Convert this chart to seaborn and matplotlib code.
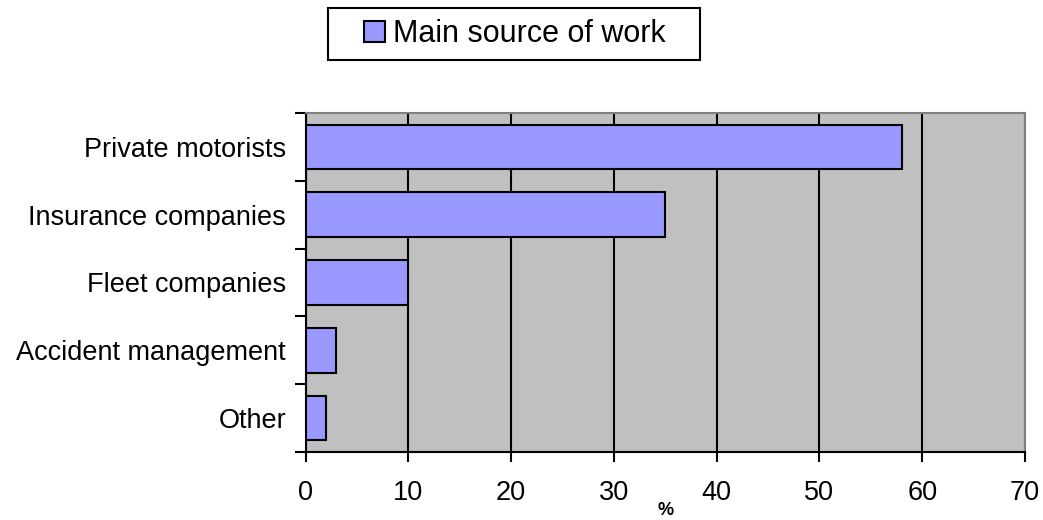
import matplotlib
matplotlib.use("Agg")
import matplotlib.pyplot as plt
from matplotlib.patches import Rectangle
import seaborn as sns
import pandas as pd
import numpy as np

categories = ["Private motorists", "Insurance companies", "Fleet companies",
              "Accident management", "Other"]
values = [58, 35, 10, 3, 2]
series_name = "Main source of work"
x_ticks = [0, 10, 20, 30, 40, 50, 60, 70]

sns.set_style("white")
plt.rcParams["font.family"] = ["Liberation Sans", "DejaVu Sans"]
plt.rcParams["text.color"] = "black"
plt.rcParams["xtick.color"] = "black"
plt.rcParams["ytick.color"] = "black"

df = pd.DataFrame({"category": categories, "value": values, "series": series_name})

W, H = 1043, 520
fig = plt.figure(figsize=(W / 100, H / 100), dpi=100)
ax = fig.add_axes([305.5 / W, 1 - 452 / H, (1025 - 305.5) / W, (452 - 113) / H])
ax.set_facecolor("#C0C0C0")

sns.barplot(data=df, x="value", y="category", hue="series", orient="h",
            palette=["#9999FF"], saturation=1, edgecolor="black", linewidth=1.5,
            width=0.66, ax=ax, zorder=3, legend=False)

ax.set_xlim(0, 70)
ax.set_ylim(len(categories) - 0.5, -0.5)
ax.set_xticks(x_ticks)
ax.set_xticklabels([str(t) for t in x_ticks], fontsize=19.5)
ax.xaxis.grid(True, color="black", linewidth=1.5, zorder=1)
ax.set_axisbelow(True)
ax.tick_params(axis="x", bottom=True, direction="out", length=7, width=1.5,
               color="black", labelcolor="black", pad=13)

ax.set_yticks(range(len(categories)))
ax.set_yticklabels(categories, fontsize=19.5)
ax.tick_params(axis="y", which="major", left=True, length=0, pad=14, labelcolor="black")
ax.set_yticks(np.arange(-0.5, len(categories), 1), minor=True)
ax.tick_params(axis="y", which="minor", left=True, direction="out", length=8, width=1.5,
               color="black")

ax.set_ylabel("")
ax.set_xlabel("%", fontsize=13, fontweight="bold", labelpad=-3, color="black")

for side in ["left", "bottom"]:
    ax.spines[side].set_visible(True)
    ax.spines[side].set_color("black")
    ax.spines[side].set_linewidth(1.5)
for side in ["top", "right"]:
    ax.spines[side].set_visible(True)
    ax.spines[side].set_color("#808080")
    ax.spines[side].set_linewidth(1.5)

# Legend frame drawn as a figure rectangle, entry placed inside it
fig.patches.append(Rectangle((328 / W, 1 - 60 / H), (700 - 328) / W, 52 / H,
                             transform=fig.transFigure, facecolor="white",
                             edgecolor="black", linewidth=1.5, zorder=1))
handle = Rectangle((0, 0), 1, 1, facecolor="#9999FF", edgecolor="black", linewidth=1.5)
leg = fig.legend([handle], [series_name], loc="center",
                 bbox_to_anchor=(515 / W, 1 - 34 / H),
                 fontsize=22, frameon=False, handlelength=0.68, handleheight=0.68,
                 handletextpad=0.25, borderpad=0, borderaxespad=0)
leg.set_zorder(2)

fig.savefig("out.png", dpi=100)
